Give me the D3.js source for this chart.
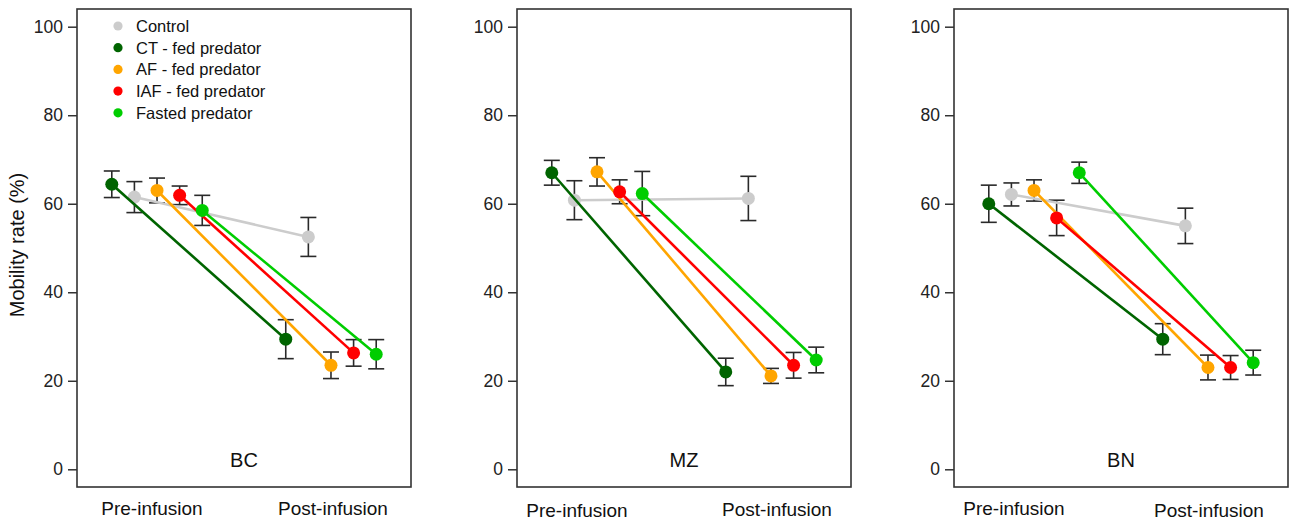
<!DOCTYPE html>
<html>
<head>
<meta charset="utf-8">
<script src="https://cdn.jsdelivr.net/npm/d3@7"></script>
<style>
  html, body { margin: 0; padding: 0; background: #ffffff; }
  svg { display: block; font-family: "Liberation Sans", Arial, Helvetica, sans-serif; }
</style>
</head>
<body>
<svg id="chart" width="1290" height="523"></svg>
<script>
// ---------- data ----------
const panels = ["BC", "MZ", "BN"];
const phases = ["Pre-infusion", "Post-infusion"];
const groups = ["Control", "CT - fed predator", "AF - fed predator", "IAF - fed predator", "Fasted predator"];
const groupColors = ["#cccccc", "#006400", "#ffa500", "#ff0000", "#00cd00"];
const yTicks = [0, 20, 40, 60, 80, 100];

// mean mobility rate (%) per group: [pre, post]
const bcMeans = [[61.5, 52.5], [64.4, 29.4], [63.0, 23.5], [61.9, 26.3], [58.5, 26.0]];
const bcErr   = [[3.5, 4.4],   [3.0, 4.4],   [2.8, 3.0],   [2.1, 3.0],   [3.4, 3.3]];
const mzMeans = [[60.8, 61.2], [67.0, 22.0], [67.2, 21.1], [62.7, 23.5], [62.3, 24.7]];
const mzErr   = [[4.4, 5.0],   [2.8, 3.1],   [3.2, 1.7],   [2.7, 2.9],   [5.0, 2.9]];
const bnMeans = [[62.1, 55.0], [60.0, 29.4], [63.0, 23.0], [56.8, 23.0], [67.0, 24.1]];
const bnErr   = [[2.6, 4.0],   [4.2, 3.5],   [2.4, 2.8],   [4.0, 2.7],   [2.4, 2.8]];

const panelMeans = [bcMeans, mzMeans, bnMeans];
const panelErr = [bcErr, mzErr, bnErr];

// ---------- layout ----------
const svg = d3.select("#chart");
const panelLeft = [77, 517, 954];
const panelW = 334;
const plotTop = 9, plotBottom = 487;
// group order on x: CT, Control, AF, IAF, Fasted
const groupOffset = [-0.13, -0.26, 0, 0.13, 0.26];
const phaseLabelPos = [
  [[75, 515], [256, 515]],
  [[60, 517], [260, 516]],
  [[60, 515], [255, 517]]
];

const y = d3.scaleLinear().domain([-4, 104]).range([plotBottom, plotTop]);

panels.forEach((name, p) => {
  const x = d3.scaleLinear().domain([0.54, 2.46]).range([panelLeft[p], panelLeft[p] + panelW]);
  const g = svg.append("g");

  // y axis
  const axis = d3.axisLeft(y).tickValues(yTicks).tickSize(9).tickPadding(5).tickFormat(d3.format("d"));
  const ax = g.append("g").attr("transform", `translate(${panelLeft[p]},0)`).call(axis);
  ax.select(".domain").remove();
  ax.selectAll(".tick line").attr("stroke", "#333").attr("stroke-width", 1.5);
  ax.selectAll(".tick text").attr("fill", "#222").style("font-size", "17.5px");

  const means = panelMeans[p], errs = panelErr[p];

  // error bars
  groups.forEach((grp, i) => {
    [0, 1].forEach(k => {
      const cx = x(k + 1 + groupOffset[i]);
      const lo = y(means[i][k] - errs[i][k]), hi = y(means[i][k] + errs[i][k]);
      const eg = g.append("g").attr("stroke", "#2a2a2a").attr("stroke-width", 1.6).attr("fill", "none");
      eg.append("line").attr("x1", cx).attr("x2", cx).attr("y1", lo).attr("y2", hi);
      eg.append("line").attr("x1", cx - 8).attr("x2", cx + 8).attr("y1", lo).attr("y2", lo);
      eg.append("line").attr("x1", cx - 8).attr("x2", cx + 8).attr("y1", hi).attr("y2", hi);
    });
  });

  // lines and points
  const line = d3.line().x(d => x(d[0])).y(d => y(d[1]));
  groups.forEach((grp, i) => {
    const pts = [[1 + groupOffset[i], means[i][0]], [2 + groupOffset[i], means[i][1]]];
    g.append("path").attr("d", line(pts)).attr("fill", "none")
      .attr("stroke", groupColors[i]).attr("stroke-width", 2.6);
    g.selectAll(null).data(pts).enter().append("circle")
      .attr("cx", d => x(d[0])).attr("cy", d => y(d[1])).attr("r", 6.5)
      .attr("fill", groupColors[i]);
  });

  // frame
  g.append("rect").attr("x", panelLeft[p]).attr("y", plotTop).attr("width", panelW).attr("height", plotBottom - plotTop)
    .attr("fill", "none").attr("stroke", "#333").attr("stroke-width", 1.6);

  // panel label
  g.append("text").attr("x", panelLeft[p] + panelW / 2).attr("y", 467).attr("text-anchor", "middle")
    .style("font-size", "20px").attr("fill", "#111").text(name);

  // phase labels
  phases.forEach((ph, k) => {
    g.append("text").attr("x", panelLeft[p] + phaseLabelPos[p][k][0]).attr("y", phaseLabelPos[p][k][1])
      .attr("text-anchor", "middle").style("font-size", "19px").attr("fill", "#111").text(ph);
  });
});

// y axis title
svg.append("text").attr("transform", "translate(24,245) rotate(-90)").attr("text-anchor", "middle")
  .style("font-size", "20px").attr("fill", "#111").text("Mobility rate (%)");

// legend
const leg = svg.append("g");
groups.forEach((grp, i) => {
  const ly = 26 + i * 21.7;
  leg.append("circle").attr("cx", 118).attr("cy", ly).attr("r", 4.6).attr("fill", groupColors[i]);
  leg.append("text").attr("x", 136).attr("y", ly + 6).style("font-size", "16.5px").attr("fill", "#111").text(grp);
});
</script>
</body>
</html>
